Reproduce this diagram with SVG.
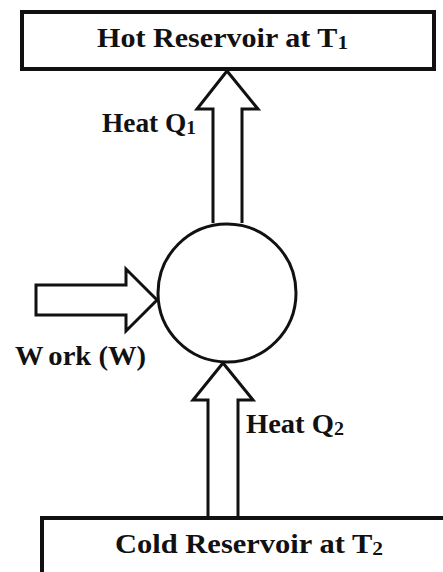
<svg xmlns="http://www.w3.org/2000/svg" width="443" height="572" viewBox="0 0 443 572">
<style>
.box{fill:#fff;stroke:#111;stroke-width:4}
.ln{fill:#fff;stroke:#111;stroke-width:3;stroke-linejoin:miter}
.t{font-family:"Liberation Serif","Times New Roman",serif;font-weight:bold;font-size:27px;fill:#111}
.sub{font-size:19px}
</style>
<rect width="443" height="572" fill="#fff"/>
<g id="connectors">
<path class="ln" d="M213,223 V109 H197 L227,71 L258,109 H242 V223"/>
<path class="ln" d="M36,285 H126 V269 L157,300 L126,331 V315 H36 Z"/>
<path class="ln" d="M208,518 V400 H193 L223,363 L253,400 H238 V518"/>
</g>
<g id="hot">
<rect class="box" x="22" y="12" width="412" height="57"/>
<text class="t" x="97" y="47" textLength="251" lengthAdjust="spacingAndGlyphs">Hot Reservoir at T<tspan class="sub" dy="2">1</tspan></text>
</g>
<g id="engine">
<circle class="ln" cx="227" cy="293" r="69"/>
</g>
<g id="cold">
<rect class="box" x="42" y="518" width="420" height="80"/>
<text class="t" x="115" y="553" textLength="268" lengthAdjust="spacingAndGlyphs">Cold Reservoir at T<tspan class="sub" dy="2">2</tspan></text>
</g>
<g id="labels">
<text class="t" x="102" y="132" textLength="94" lengthAdjust="spacingAndGlyphs">Heat Q<tspan class="sub" dy="2">1</tspan></text>
<text class="t" x="15" y="365" textLength="131" lengthAdjust="spacingAndGlyphs">W<tspan dx="6">ork (W)</tspan></text>
<text class="t" x="246" y="433" textLength="98" lengthAdjust="spacingAndGlyphs">Heat Q<tspan class="sub" dy="2">2</tspan></text>
</g>
</svg>
